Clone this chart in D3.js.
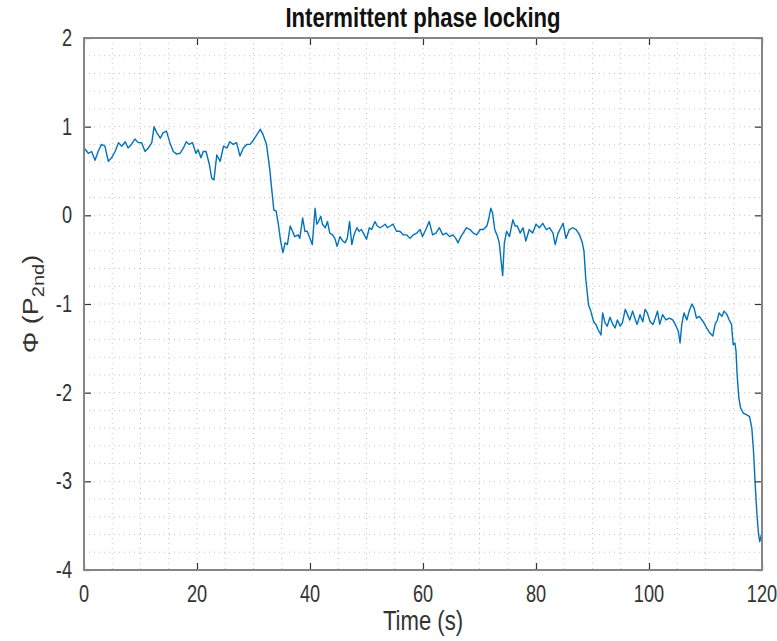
<!DOCTYPE html>
<html>
<head>
<meta charset="utf-8">
<script src="https://cdn.jsdelivr.net/npm/d3@7"></script>
<style>
  html, body { margin: 0; padding: 0; background: #fff; }
  svg { display: block; }
  text { font-family: "Liberation Sans", Arial, sans-serif; }
</style>
</head>
<body>
<svg id="chart" width="777" height="641"></svg>
<script>
// ---- data ----
const time = [
  0.0, 0.77, 1.35, 1.95, 2.5, 3.1, 3.7, 4.3, 4.9, 5.5, 6.1, 6.7, 7.3, 7.8, 8.4, 9.0, 9.6, 10.2, 10.8, 11.4,
  12.0, 12.4, 12.9, 13.5, 14.0, 14.6, 15.2, 15.8, 16.4, 17.0, 17.6, 18.1, 18.6, 19.2, 19.8, 20.2, 20.7, 21.1, 21.6, 22.2,
  22.6, 23.0, 23.5, 24.1, 24.7, 25.3, 25.8, 26.4, 27.0, 27.6, 28.2, 28.8, 29.4, 30.0, 30.6, 31.2, 31.7, 32.3, 32.9, 33.2,
  33.6, 34.0, 34.4, 34.8, 35.2, 35.6, 36.0, 36.5, 36.9, 37.3, 37.9, 38.2, 38.7, 39.1, 39.5, 40.0, 40.4, 40.9, 41.2, 41.5,
  41.9, 42.2, 42.7, 43.1, 43.5, 44.0, 44.4, 44.8, 45.3, 45.8, 46.2, 46.6, 47.0, 47.4, 47.8, 48.3, 48.7, 49.1, 49.6, 50.0,
  50.5, 50.9, 51.5, 51.9, 52.4, 52.9, 53.3, 53.7, 54.2, 54.7, 55.3, 55.9, 56.5, 57.1, 57.7, 58.3, 58.9, 59.5, 59.9, 60.5,
  61.1, 61.7, 62.3, 62.9, 63.5, 64.1, 64.7, 65.3, 65.8, 66.2, 66.7, 67.1, 67.7, 68.3, 68.9, 69.5, 70.1, 70.7, 71.3, 71.6,
  72.0, 72.3, 72.7, 73.2, 73.5, 73.8, 74.1, 74.4, 74.8, 75.3, 75.9, 76.3, 76.7, 77.2, 77.7, 78.2, 78.8, 79.4, 80.0, 80.6,
  81.2, 81.8, 82.4, 83.0, 83.4, 83.9, 84.4, 84.8, 85.3, 85.9, 86.5, 87.1, 87.7, 88.2, 88.5, 88.8, 89.3, 89.7, 90.2, 90.6,
  91.0, 91.5, 91.8, 92.2, 92.6, 93.1, 93.6, 94.0, 94.4, 94.9, 95.3, 95.8, 96.2, 96.6, 97.1, 97.5, 97.9, 98.4, 98.9, 99.3,
  99.7, 100.2, 100.7, 101.1, 101.5, 101.9, 102.4, 103.0, 103.6, 104.2, 104.8, 105.2, 105.5, 105.8, 106.2, 106.7, 107.1, 107.6, 108.0, 108.4,
  108.9, 109.6, 110.2, 110.8, 111.3, 111.7, 112.1, 112.4, 112.9, 113.3, 113.8, 114.2, 114.6, 114.9, 115.2, 115.4, 115.6, 115.9, 116.2, 116.7,
  117.3, 117.8, 118.2, 118.5, 118.8, 119.1, 119.4, 119.6, 119.9
];
const phi = [
  0.76, 0.70, 0.72, 0.62, 0.72, 0.80, 0.78, 0.61, 0.65, 0.72, 0.82, 0.78, 0.83, 0.76, 0.80, 0.86, 0.82, 0.82, 0.72, 0.76,
  0.82, 1.00, 0.93, 0.87, 0.93, 0.95, 0.82, 0.72, 0.69, 0.70, 0.76, 0.83, 0.80, 0.82, 0.70, 0.74, 0.65, 0.72, 0.72, 0.57,
  0.42, 0.40, 0.68, 0.61, 0.78, 0.76, 0.83, 0.80, 0.82, 0.67, 0.76, 0.80, 0.80, 0.85, 0.91, 0.97, 0.91, 0.80, 0.51, 0.31,
  0.06, 0.05, -0.10, -0.29, -0.42, -0.31, -0.33, -0.12, -0.18, -0.24, -0.22, -0.26, -0.03, -0.18, -0.18, -0.26, -0.33, 0.08, -0.10, -0.07,
  -0.01, -0.10, -0.14, -0.07, -0.20, -0.22, -0.26, -0.35, -0.24, -0.29, -0.31, -0.26, -0.07, -0.33, -0.22, -0.14, -0.18, -0.16, -0.22, -0.27,
  -0.14, -0.16, -0.07, -0.12, -0.14, -0.12, -0.10, -0.14, -0.12, -0.10, -0.18, -0.18, -0.22, -0.22, -0.26, -0.22, -0.20, -0.16, -0.24, -0.16,
  -0.07, -0.22, -0.20, -0.14, -0.22, -0.20, -0.24, -0.22, -0.26, -0.31, -0.24, -0.20, -0.14, -0.16, -0.20, -0.22, -0.16, -0.16, -0.12, -0.05,
  0.08, 0.03, -0.16, -0.24, -0.31, -0.50, -0.68, -0.31, -0.18, -0.24, -0.05, -0.12, -0.12, -0.20, -0.14, -0.29, -0.16, -0.20, -0.10, -0.14,
  -0.09, -0.16, -0.14, -0.20, -0.33, -0.20, -0.14, -0.09, -0.26, -0.16, -0.14, -0.16, -0.22, -0.31, -0.41, -0.71, -1.01, -1.08, -1.20, -1.23,
  -1.29, -1.35, -1.10, -1.21, -1.25, -1.15, -1.23, -1.27, -1.18, -1.25, -1.21, -1.06, -1.12, -1.18, -1.08, -1.16, -1.23, -1.12, -1.20, -1.06,
  -1.10, -1.20, -1.23, -1.16, -1.08, -1.23, -1.12, -1.18, -1.16, -1.18, -1.25, -1.31, -1.44, -1.23, -1.10, -1.18, -1.08, -1.00, -1.05, -1.16,
  -1.14, -1.20, -1.27, -1.33, -1.36, -1.23, -1.18, -1.10, -1.14, -1.08, -1.12, -1.18, -1.23, -1.46, -1.44, -1.53, -1.80, -2.06, -2.17, -2.23,
  -2.25, -2.27, -2.40, -2.66, -3.04, -3.37, -3.60, -3.68, -3.60
];
const xTicks = [0, 20, 40, 60, 80, 100, 120];
const yTicks = [2, 1, 0, -1, -2, -3, -4];
const xMinor = d3.range(0, 120.01, 5);
const yMinor = d3.range(-4, 2.001, 0.2);
const titleText = "Intermittent phase locking";
const xLabelText = "Time (s)";

// ---- layout ----
const svg = d3.select("#chart");
const L = 84, R = 762, T = 38, B = 570;
const SX = 0.79; // horizontal condensing of all text, as in the reference
const x = d3.scaleLinear().domain([0, 120]).range([L, R]);
const y = d3.scaleLinear().domain([-4, 2]).range([B, T]);
const gridColor = "#c4c4c4";

// grid (dotted)
const grid = svg.append("g");
grid.selectAll("line.vx").data(xMinor).join("line")
  .attr("x1", d => x(d)).attr("x2", d => x(d)).attr("y1", T).attr("y2", B)
  .attr("stroke", gridColor).attr("stroke-width", 1).attr("stroke-dasharray", "1,4");
grid.selectAll("line.hy").data(yMinor).join("line")
  .attr("y1", d => y(d)).attr("y2", d => y(d)).attr("x1", L).attr("x2", R)
  .attr("stroke", gridColor).attr("stroke-width", 1).attr("stroke-dasharray", "1,4");

// data line
const line = d3.line().x((d, i) => x(time[i])).y(d => y(d));
svg.append("path").datum(phi)
  .attr("d", line).attr("fill", "none")
  .attr("stroke", "#0072BD").attr("stroke-width", 1.4)
  .attr("stroke-linejoin", "round");

// axes: inward ticks on all four sides
const axes = [
  svg.append("g").attr("transform", `translate(0,${B})`)
    .call(d3.axisBottom(x).tickValues(xTicks).tickSizeInner(-7).tickSizeOuter(0).tickFormat("")),
  svg.append("g").attr("transform", `translate(0,${T})`)
    .call(d3.axisTop(x).tickValues(xTicks).tickSizeInner(-7).tickSizeOuter(0).tickFormat("")),
  svg.append("g").attr("transform", `translate(${L},0)`)
    .call(d3.axisLeft(y).tickValues(yTicks).tickSizeInner(-7).tickSizeOuter(0).tickFormat("")),
  svg.append("g").attr("transform", `translate(${R},0)`)
    .call(d3.axisRight(y).tickValues(yTicks).tickSizeInner(-7).tickSizeOuter(0).tickFormat(""))
];
axes.forEach(g => {
  g.select(".domain").remove();
  g.selectAll(".tick line").attr("stroke", "#333").attr("stroke-width", 1.2);
});

// tick labels (condensed)
svg.append("g").selectAll("text").data(xTicks).join("text")
  .attr("transform", d => `translate(${x(d)},${B + 32}) scale(${SX},1)`)
  .attr("text-anchor", "middle").style("font-size", "23px").attr("fill", "#333")
  .text(d => String(d));
svg.append("g").selectAll("text").data(yTicks).join("text")
  .attr("transform", d => `translate(${L - 12},${y(d) + 8}) scale(${SX},1)`)
  .attr("text-anchor", "end").style("font-size", "23px").attr("fill", "#333")
  .text(d => String(d));

// box
svg.append("rect").attr("x", L).attr("y", T).attr("width", R - L).attr("height", B - T)
  .attr("fill", "none").attr("stroke", "#858585").attr("stroke-width", 2);

// title
svg.append("text").attr("transform", `translate(${(L + R) / 2},27) scale(${SX},1)`)
  .attr("text-anchor", "middle").attr("font-weight", "bold")
  .style("font-size", "28px").attr("fill", "#111").text(titleText);

// x label
svg.append("text").attr("transform", `translate(${(L + R) / 2},630) scale(${SX},1)`)
  .attr("text-anchor", "middle").style("font-size", "28px").attr("fill", "#333").text(xLabelText);

// y label
const yl = svg.append("text")
  .attr("transform", `translate(38,${(T + B) / 2}) scale(${SX},1) rotate(-90)`)
  .attr("text-anchor", "middle").style("font-size", "27px").attr("fill", "#333");
yl.append("tspan").text("\u03A6 (P");
yl.append("tspan").attr("dy", 7).style("font-size", "20px").text("2nd");
yl.append("tspan").attr("dy", -7).text(")");
</script>
</body>
</html>
